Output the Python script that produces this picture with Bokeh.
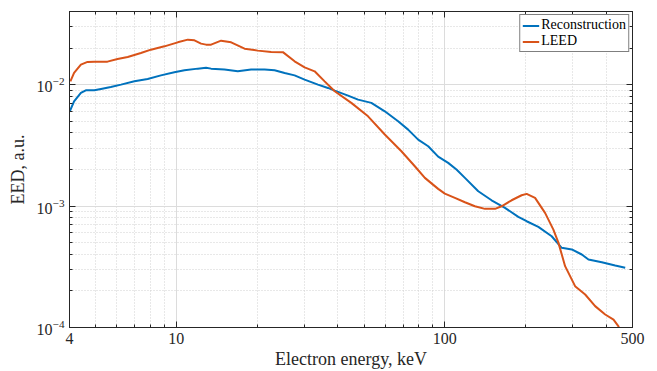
from bokeh.plotting import figure
from bokeh.models import FixedTicker, LogAxis, BasicTickFormatter
from bokeh.embed import file_html
from bokeh.resources import INLINE

# Data
recon_x = [4.01, 4.16, 4.41, 4.60, 4.95, 5.24, 5.70, 6.22, 6.98, 7.82, 8.76, 9.83, 10.72,
           12.02, 12.90, 13.47, 15.11, 16.94, 18.99, 21.31, 23.22, 25.31, 27.57, 30.05, 33.68,
           36.7, 38.89, 43.6, 47.51, 53.25, 59.75, 66.99, 73.0, 79.55, 86.7, 94.45, 102.9,
           110.5, 118.8, 133.2, 149.3, 167.5, 187.8, 201.7, 223.0, 250.0, 272.4, 297.0,
           323.6, 342.7, 384.2, 431.0, 469.7]
recon_y = [0.00603, 0.00729, 0.00854, 0.00898, 0.00898, 0.00922, 0.00957, 0.0100, 0.01064,
           0.01114, 0.01192, 0.01262, 0.01311, 0.01354, 0.01376, 0.01354, 0.01329, 0.01287,
           0.01329, 0.01329, 0.01311, 0.01248, 0.01192, 0.0110, 0.0100, 0.00939, 0.00892,
           0.00812, 0.00752, 0.00707, 0.00603, 0.00499, 0.00426, 0.003526, 0.003106,
           0.002555, 0.002268, 0.001998, 0.001706, 0.001324, 0.001116, 0.000966, 0.000815,
           0.00075, 0.000674, 0.000564, 0.000453, 0.000439, 0.000399, 0.000363, 0.000345,
           0.000324, 0.00031]

leed_x = [4.03, 4.16, 4.41, 4.67, 4.95, 5.54, 6.04, 6.59, 7.38, 8.04, 9.03, 10.12, 11.03,
          11.68, 12.36, 12.90, 13.47, 14.68, 16.00, 17.95, 20.12, 22.55, 24.94, 27.57, 30.05,
          32.74, 35.68, 38.89, 44.84, 51.76, 59.75, 68.91, 77.3, 84.26, 94.45, 100.0, 109.0,
          118.8, 129.4, 141.1, 153.8, 162.7, 177.3, 193.2, 201.7, 216.8, 236.2, 253.7, 264.8,
          280.5, 305.6, 333.2, 362.9, 395.6, 424.9, 443.5, 450.0]
leed_y = [0.01064, 0.01248, 0.01461, 0.01538, 0.01546, 0.01546, 0.01627, 0.0169, 0.01823,
          0.0194, 0.02066, 0.02229, 0.02346, 0.02316, 0.02175, 0.02134, 0.02134, 0.02302,
          0.02229, 0.01978, 0.01905, 0.01858, 0.01851, 0.01555, 0.01388, 0.01287, 0.01064,
          0.00881, 0.00707, 0.00548, 0.00388, 0.002825, 0.002126, 0.001706, 0.001385,
          0.001267, 0.001168, 0.001075, 0.000996, 0.000948, 0.000948, 0.000996, 0.001116,
          0.001227, 0.00126, 0.001168, 0.000879, 0.00064, 0.0005, 0.00032, 0.000219,
          0.000187, 0.00015, 0.000128, 0.000116, 0.000102, 0.000093]

x_ticks = [4, 10, 100, 500]
x_minor = [5, 6, 7, 8, 9, 20, 30, 40, 50, 60, 70, 80, 90, 200, 300, 400]
y_ticks = [1e-4, 1e-3, 1e-2]
y_minor = [m * 10.0 ** e for e in (-4, -3, -2) for m in range(2, 10) if m * 10.0 ** e <= 0.04]

FONT = "Liberation Serif"
AX = "#262626"

p = figure(frame_width=563, frame_height=316, x_axis_type="log", y_axis_type="log",
           x_range=(4, 500), y_range=(1e-4, 0.04),
           output_backend="svg", toolbar_location=None,
           min_border_left=69, min_border_right=14, min_border_top=11, min_border_bottom=30)

p.line(recon_x, recon_y, line_color="#0072BD", line_width=2, legend_label="Reconstruction")
p.line(leed_x, leed_y, line_color="#D95319", line_width=2, legend_label="LEED")

bottom = p.below[0]
left = p.left[0]
top = LogAxis()
right = LogAxis()
p.add_layout(top, "above")
p.add_layout(right, "right")

for ax in (bottom, top):
    ax.ticker = FixedTicker(ticks=x_ticks, minor_ticks=x_minor)
for ax in (left, right):
    ax.ticker = FixedTicker(ticks=y_ticks, minor_ticks=y_minor)

bottom.formatter = BasicTickFormatter()
bottom.major_label_overrides = {4: "4", 10: "10", 100: "100", 500: "500"}

for ax in (bottom, top, left, right):
    ax.major_tick_in = 6
    ax.major_tick_out = 0
    ax.minor_tick_in = 3
    ax.minor_tick_out = 0
    ax.axis_line_color = AX
    ax.major_tick_line_color = AX
    ax.minor_tick_line_color = AX
    ax.major_label_text_font = FONT
    ax.major_label_text_font_size = "16px"
    ax.major_label_text_color = AX
    ax.axis_label_text_font = FONT
    ax.axis_label_text_font_style = "normal"
    ax.axis_label_text_font_size = "18px"
    ax.axis_label_text_color = AX

for ax in (top, right):
    ax.major_label_text_font_size = "1px"
    ax.major_label_text_color = None
    ax.major_label_standoff = 0

bottom.axis_label = "Electron energy, keV"
bottom.major_label_standoff = 5
bottom.axis_label_standoff = 2
left.axis_label = "EED, a.u."
left.major_label_standoff = 5
left.axis_label_standoff = 6

p.outline_line_color = AX

for g in (p.xgrid, p.ygrid):
    g.grid_line_color = "#dcdcdc"
    g.grid_line_width = 1
    g.minor_grid_line_color = "#d0d0d0"
    g.minor_grid_line_dash = "1 2"
    g.minor_grid_line_width = 1

leg = p.legend[0]
leg.location = "top_right"
leg.margin = 3
leg.padding = 2
leg.spacing = 0
leg.glyph_width = 17
leg.glyph_height = 15
leg.label_height = 15
leg.label_standoff = 2
leg.label_text_font = FONT
leg.label_text_font_size = "14px"
leg.label_text_color = "black"
leg.border_line_color = "black"
leg.border_line_width = 1
leg.background_fill_alpha = 1

open("out.html", "w").write(file_html(p, INLINE))
